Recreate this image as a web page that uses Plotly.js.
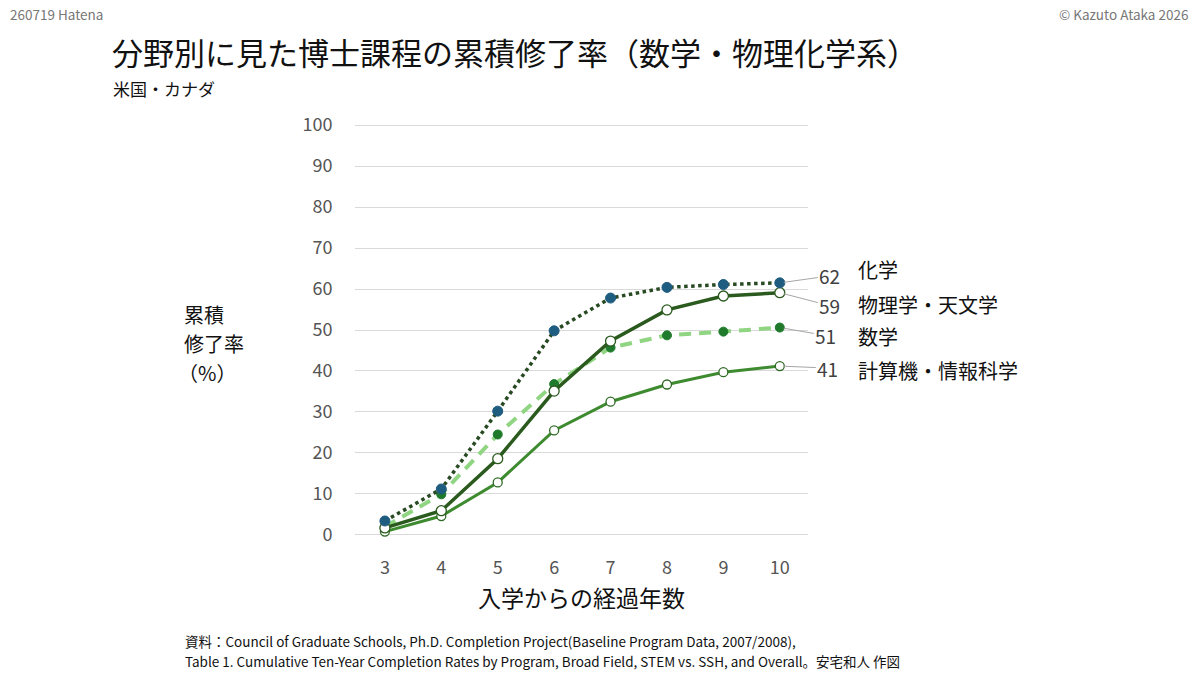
<!DOCTYPE html>
<html>
<head>
<meta charset="utf-8">
<script src="https://cdn.plot.ly/plotly-3.0.1.min.js"></script>
<style>html,body{margin:0;padding:0;background:#fff;}#chart{width:1200px;height:675px;}</style>
</head>
<body>
<div id="chart"></div>
<script>
const years = [3, 4, 5, 6, 7, 8, 9, 10];
const seriesNames = ["化学", "物理学・天文学", "数学", "計算機・情報科学"];
const chemistry = [3.4, 11.2, 30.2, 49.8, 57.8, 60.4, 61.1, 61.5];
const physics = [1.7, 5.9, 18.6, 35.1, 47.3, 54.9, 58.3, 59.1];
const mathematics = [2.0, 9.9, 24.5, 36.8, 45.7, 48.7, 49.6, 50.6];
const computing = [0.8, 4.6, 12.8, 25.5, 32.5, 36.7, 39.7, 41.2];
const endLabels = ["62", "59", "51", "41"];
const yTicks = [0, 10, 20, 30, 40, 50, 60, 70, 80, 90, 100];
const yTitleLines = ["累積", "修了率", "（%）"];

const FONT = '"Noto Sans CJK JP", "Noto Sans", sans-serif';

const traces = [
  {x: years, y: computing, name: seriesNames[3], mode: 'lines+markers',
   line: {color: '#3d8a2f', width: 3},
   marker: {size: 9, color: '#ffffff', line: {color: '#2f6a25', width: 1.3}}},
  {x: years, y: mathematics, name: seriesNames[2], mode: 'lines+markers',
   line: {color: '#8fd582', width: 4, dash: '12px,8px'},
   marker: {size: 9, color: '#1f7a2c', line: {color: '#1f7a2c', width: 1}}},
  {x: years, y: physics, name: seriesNames[1], mode: 'lines+markers',
   line: {color: '#2a5a1d', width: 3.5},
   marker: {size: 10, color: '#ffffff', line: {color: '#2a5a1d', width: 1.3}}},
  {x: years, y: chemistry, name: seriesNames[0], mode: 'lines+markers',
   line: {color: '#284a22', width: 3.5, dash: 'dot'},
   marker: {size: 10, color: '#1e5c80', line: {color: '#1e5c80', width: 1}}}
];

const lastVals = [chemistry[7], physics[7], mathematics[7], computing[7]];
const valOffsets = [[50, -7], [50, 13], [46, 8], [48, 2]];
const nameShifts = [13, -12, -9, -4];

const annotations = [];
for (let i = 0; i < 4; i++) {
  annotations.push({
    x: years[years.length - 1], y: lastVals[i], xref: 'x', yref: 'y',
    text: endLabels[i], showarrow: true, arrowhead: 0, arrowwidth: 1, arrowcolor: '#a6a6a6',
    ax: valOffsets[i][0], ay: valOffsets[i][1], standoff: 4,
    font: {family: FONT, size: 19, color: '#404040'}
  });
  annotations.push({
    x: years[years.length - 1], y: lastVals[i], xref: 'x', yref: 'y',
    text: seriesNames[i], showarrow: false, xanchor: 'left', yanchor: 'middle',
    xshift: 76, yshift: nameShifts[i],
    font: {family: FONT, size: 20, color: '#111111'}
  });
}
const px2x = (px) => (px - 355) / (808 - 355);
const px2y = (py) => (539 - py) / (539 - 121);
const pageText = [
  {x: 8, y: 14, text: '260719 Hatena', size: 13.5, color: '#777777', anchor: 'left'},
  {x: 1190, y: 14, text: '© Kazuto Ataka 2026', size: 13.5, color: '#777777', anchor: 'right'},
  {x: 110, y: 52, text: '分野別に見た博士課程の累積修了率（数学・物理化学系）', size: 31, color: '#111111', anchor: 'left'},
  {x: 111, y: 88, text: '米国・カナダ', size: 17, color: '#111111', anchor: 'left'},
  {x: 183, y: 640.5, text: '資料：Council of Graduate Schools, Ph.D. Completion Project(Baseline Program Data, 2007/2008),', size: 13.5, color: '#111111', anchor: 'left'},
  {x: 183, y: 660.5, text: 'Table 1. Cumulative Ten-Year Completion Rates by Program, Broad Field, STEM vs. SSH, and Overall。安宅和人 作図', size: 13.5, color: '#111111', anchor: 'left'}
];
for (const t of pageText) {
  annotations.push({xref: 'paper', yref: 'paper', x: px2x(t.x), y: px2y(t.y),
    text: t.text, showarrow: false, xanchor: t.anchor, yanchor: 'middle',
    font: {family: FONT, size: t.size, color: t.color}});
}
const yTitleX = [182, 182, 176];
yTitleLines.forEach((line, i) => {
  annotations.push({xref: 'paper', yref: 'paper', x: px2x(yTitleX[i]), y: px2y(314.5 + 29 * i),
    text: line, showarrow: false, xanchor: 'left', yanchor: 'middle',
    font: {family: FONT, size: 20, color: '#111111'}});
});

const layout = {
  width: 1200, height: 675,
  margin: {l: 355, r: 392, t: 121, b: 136},
  paper_bgcolor: '#ffffff', plot_bgcolor: '#ffffff',
  showlegend: false,
  font: {family: FONT},
  xaxis: {
    range: [2.47, 10.5], tickvals: years, showgrid: false, zeroline: false, showline: false,
    ticks: 'outside', ticklen: 12, tickcolor: 'rgba(0,0,0,0)',
    tickfont: {family: FONT, size: 18, color: '#555555'},
    title: {text: '入学からの経過年数', font: {family: FONT, size: 23, color: '#111111'}, standoff: 13}
  },
  yaxis: {
    range: [-1, 101], tickvals: yTicks, showgrid: true, gridcolor: '#d9d9d9', gridwidth: 1,
    zeroline: false, showline: false,
    ticks: 'outside', ticklen: 18, tickcolor: 'rgba(0,0,0,0)',
    tickfont: {family: FONT, size: 18, color: '#555555'}
  },
  annotations: annotations
};

Plotly.newPlot('chart', traces, layout, {displayModeBar: false, staticPlot: true});
</script>
</body>
</html>
